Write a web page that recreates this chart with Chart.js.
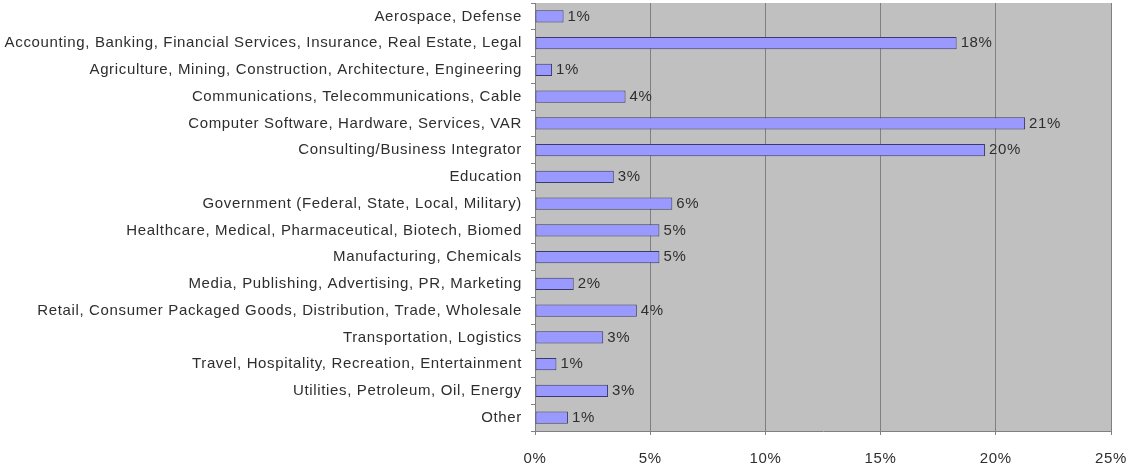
<!DOCTYPE html>
<html>
<head>
<meta charset="utf-8">
<script src="https://cdn.jsdelivr.net/npm/chart.js@4"></script>
<style>
  html, body { margin: 0; padding: 0; background: #fff; }
  #wrap { width: 1128px; height: 467px; position: relative; }
</style>
</head>
<body>
<div id="wrap"><canvas id="grafik"></canvas></div>
<script>
// ================= DATA =================
const kategori = [
  "Aerospace, Defense",
  "Accounting, Banking, Financial Services, Insurance, Real Estate, Legal",
  "Agriculture, Mining, Construction, Architecture, Engineering",
  "Communications, Telecommunications, Cable",
  "Computer Software, Hardware, Services, VAR",
  "Consulting/Business Integrator",
  "Education",
  "Government (Federal, State, Local, Military)",
  "Healthcare, Medical, Pharmaceutical, Biotech, Biomed",
  "Manufacturing, Chemicals",
  "Media, Publishing, Advertising, PR, Marketing",
  "Retail, Consumer Packaged Goods, Distribution, Trade, Wholesale",
  "Transportation, Logistics",
  "Travel, Hospitality, Recreation, Entertainment",
  "Utilities, Petroleum, Oil, Energy",
  "Other"
];
const persen = [1.24, 18.3, 0.74, 3.93, 21.27, 19.53, 3.42, 5.96, 5.4, 5.4, 1.68, 4.42, 2.96, 0.93, 3.17, 1.43];
const labelPersen = ["1%", "18%", "1%", "4%", "21%", "20%", "3%", "6%", "5%", "5%", "2%", "4%", "3%", "1%", "3%", "1%"];
const tickX = [0, 5, 10, 15, 20, 25];

const FONT = { family: "'Liberation Sans', Arial, sans-serif", size: 15 };
const TEKS = "#2e2e2e";
const SPASI = "0.65px";

// ================= PLUGIN =================
const latarAbu = {
  id: "latarAbu",
  beforeInit(chart) {
    chart.ctx.letterSpacing = SPASI;
  },
  beforeDraw(chart) {
    const a = chart.chartArea;
    const c = chart.ctx;
    c.letterSpacing = SPASI;
    c.save();
    c.fillStyle = "#c0c0c0";
    c.fillRect(a.left, a.top, a.right - a.left, a.bottom - a.top);
    c.restore();
  },
};

const labelBatang = {
  id: "labelBatang",
  afterDatasetsDraw(chart) {
    const c = chart.ctx;
    const meta = chart.getDatasetMeta(0);
    c.save();
    c.font = FONT.size + "px " + FONT.family;
    c.letterSpacing = SPASI;
    c.fillStyle = TEKS;
    c.textAlign = "left";
    c.textBaseline = "middle";
    meta.data.forEach((bar, i) => {
      c.fillText(labelPersen[i], bar.x + 4, bar.y);
    });
    c.restore();
  },
};

// ================= GRAFIK =================
new Chart(document.getElementById("grafik"), {
  type: "bar",
  data: {
    labels: kategori,
    datasets: [
      {
        data: persen,
        backgroundColor: "#9999ff",
        borderColor: "#3a3a6e",
        borderWidth: 1,
        borderSkipped: false,
        categoryPercentage: 1,
        barPercentage: 0.46,
      },
    ],
  },
  options: {
    indexAxis: "y",
    responsive: true,
    maintainAspectRatio: false,
    animation: false,
    layout: { padding: { top: 3, right: 17, bottom: 0, left: 0 } },
    plugins: {
      legend: { display: false },
      tooltip: { enabled: false },
    },
    scales: {
      x: {
        min: 0,
        max: 25,
        afterBuildTicks: (s) => {
          s.ticks = tickX.map((v) => ({ value: v }));
        },
        afterFit: (s) => {
          s.height = 36;
          s.paddingLeft = 0;
          s.paddingRight = 0;
        },
        grid: {
          color: "#808080",
          lineWidth: 1,
          tickLength: 4,
          drawTicks: true,
        },
        border: { color: "#808080" },
        ticks: {
          font: FONT,
          color: TEKS,
          padding: 15,
          maxRotation: 0,
          callback: (v) => v + "%",
        },
      },
      y: {
        afterFit: (s) => {
          s.width = 535;
          s.paddingTop = 0;
          s.paddingBottom = 0;
        },
        grid: {
          offset: true,
          drawOnChartArea: false,
          color: "#808080",
          tickLength: 4,
        },
        border: { color: "#808080" },
        ticks: {
          font: FONT,
          color: TEKS,
          padding: 9,
          autoSkip: false,
        },
      },
    },
  },
  plugins: [latarAbu, labelBatang],
});
</script>
</body>
</html>
